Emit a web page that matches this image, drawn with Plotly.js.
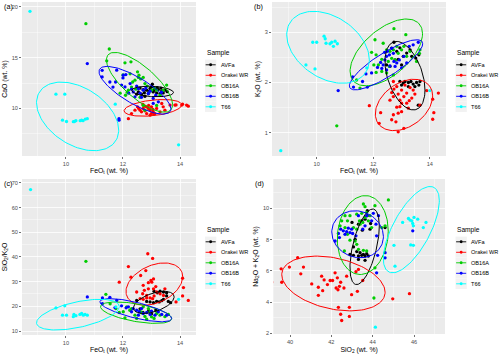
<!DOCTYPE html>
<html><head><meta charset="utf-8">
<script src="https://cdn.plot.ly/plotly-3.0.1.min.js"></script>
<style>html,body{margin:0;padding:0;background:#fff}#chart{width:500px;height:355px}</style>
</head><body><div id="chart"></div>
<script>
const samples = ["AVFa", "Orakei WR", "OB16A", "OB16B", "T66"];
const sampleColors = ["#000000", "#FF0000", "#00CD00", "#0000FF", "#00FFFF"];

// ---------- panel (a): FeOt vs CaO ----------
const aFeO_AVFa = [12.48,12.54,12.65,12.71,12.77,12.83,12.89,12.95,13.0,13.03,13.06,13.12,13.18,13.24,13.3,13.36,13.41,13.47,12.6,12.92,13.1,13.2,13.55,12.75,13.33];
const aCaO_AVFa = [11.4,11.63,11.4,11.86,11.2,11.8,11.47,11.96,12.12,12.38,11.63,11.8,11.53,11.86,11.47,11.73,11.53,11.8,12.0,11.7,11.9,12.05,11.65,11.55,12.0];
const aFeO_Orakei = [12.19,12.3,12.42,12.51,12.6,12.65,12.71,12.77,12.77,12.83,12.83,12.89,12.95,12.95,13.0,13.0,13.06,13.09,13.12,13.18,13.3,13.36,13.41,13.47,13.65,13.82,13.86,14.06,14.09,14.23,14.29,12.7,12.9,13.05,12.55];
const aCaO_Orakei = [9.0,9.5,9.83,10.16,9.83,9.67,10.0,9.77,10.23,10.16,9.5,10.0,9.83,9.34,10.16,9.51,9.67,9.44,9.5,10.0,9.67,10.49,10.16,9.83,10.33,10.33,10.35,10.33,10.42,10.33,10.23,10.4,10.3,9.9,10.0];
const aFeO_OB16A = [10.7,11.52,11.43,12.07,12.28,12.51,12.56,12.54,12.71,12.42,12.34,12.77,12.19,12.09,13.0,13.18,13.41,13.53,12.77,12.71,13.18,12.0,12.25,12.62,12.85,12.45,12.3,12.9,13.3,12.15,12.6,13.1,11.9];
const aCaO_OB16A = [18.33,15.84,14.68,14.48,14.58,13.6,13.27,13.05,13.05,12.78,12.6,12.45,11.8,11.3,11.8,11.8,11.8,12.3,9.83,10.3,10.3,13.3,13.4,12.9,12.2,11.9,12.1,11.5,11.3,11.6,11.1,12.0,11.5];
const aFeO_OB16B = [10.75,11.27,11.27,11.54,11.74,11.78,12.01,12.1,11.95,12.07,12.25,12.36,12.54,12.71,12.89,12.42,13.06,13.24,13.06,11.86,11.86,12.3,12.6,12.8,12.95,13.15,12.2,12.48,12.65,13.35,12.0,11.65];
const aCaO_OB16B = [14.41,13.75,13.1,12.6,12.6,13.76,13.27,13.33,12.3,12.12,12.45,11.63,11.96,11.8,11.47,11.14,10.98,10.65,10.5,9.0,8.85,11.9,11.5,12.0,11.7,11.3,11.5,12.2,11.1,11.6,13.0,12.1];
const aFeO_T66 = [8.74,9.65,9.96,9.88,10.02,10.26,10.3,10.35,10.5,10.55,10.6,10.68,10.75,11.73,13.95];
const aCaO_T66 = [19.54,11.4,11.4,8.85,8.72,8.7,8.72,8.8,8.8,8.85,8.8,8.95,9.0,10.42,6.43];

// ---------- panel (b): FeOt vs K2O ----------
const bFeO_AVFa = [12.65,12.73,12.83,12.94,13.06,13.18,13.36,12.77,12.59,13.0,13.5,13.61,12.88,13.3,12.94,13.06,13.12,13.24,13.33,13.41,13.53,13.61,13.47,13.24,13.65,13.0,13.59,12.47];
const bK2O_AVFa = [2.685,2.8,2.62,2.69,2.52,2.585,2.52,2.45,2.32,2.35,2.485,2.55,2.46,2.65,2.02,1.99,2.02,2.0,2.02,1.97,2.0,1.95,1.92,1.92,2.02,1.95,1.55,2.35];
const bFeO_Orakei = [11.86,12.26,12.21,12.59,12.65,12.73,12.71,12.83,12.88,12.94,13.0,13.08,13.18,13.27,13.36,13.41,13.47,12.83,12.94,13.0,12.88,12.71,12.65,12.8,12.88,13.08,13.0,13.18,13.24,13.65,13.89,14.1,14.14,14.1,14.3,12.71,13.12,13.3];
const bK2O_Orakei = [1.54,1.4,1.19,1.65,1.8,1.87,1.72,1.92,1.77,1.65,1.85,1.72,1.79,1.64,1.69,1.85,1.77,1.51,1.52,1.42,1.39,1.36,1.26,1.22,1.02,1.09,1.59,1.59,1.49,1.55,1.84,1.67,1.4,1.27,1.79,2.02,1.95,1.9];
const bFeO_OB16A = [12.73,13.15,12.06,12.35,11.94,12.1,12.02,12.18,12.47,12.59,12.71,12.83,12.88,13.0,13.08,13.18,13.3,13.53,13.63,13.65,12.65,12.77,12.53,12.3,12.47,12.71,12.1,11.41,11.53,10.71,12.3,12.57];
const bK2O_OB16A = [3.07,2.95,2.85,2.78,2.6,2.55,2.35,2.35,2.65,2.62,2.65,2.72,2.58,2.65,2.72,2.52,2.62,2.42,2.58,2.65,2.48,2.45,2.42,2.22,2.19,2.15,2.2,2.05,1.89,1.14,2.46,2.32];
const bFeO_OB16B = [10.76,11.27,11.3,11.79,11.74,11.94,12.26,12.35,12.41,12.47,12.5,12.57,12.65,12.71,12.73,12.83,12.92,13.0,13.08,13.18,13.27,13.41,13.59,12.3,12.47,12.59,12.77,11.62,12.15,12.4];
const bK2O_OB16B = [1.84,2.11,1.91,1.91,2.17,2.19,2.4,2.35,2.45,2.52,2.62,2.55,2.68,2.58,2.42,2.39,2.45,2.29,2.52,2.39,2.72,2.75,2.8,2.28,2.25,2.33,2.32,2.02,2.3,2.6];
const bFeO_T66 = [8.73,9.62,9.94,9.86,10.0,10.26,10.3,10.33,10.47,10.53,10.59,10.65,10.73,11.77,14.0];
const bK2O_T66 = [0.645,2.35,2.27,2.8,2.8,2.92,2.87,2.78,2.77,2.8,2.72,2.82,2.77,2.29,1.84];

// ---------- panel (c): FeOt vs SiO2/K2O ----------
const cFeO_AVFa = [12.48,12.83,12.95,13.07,13.18,13.27,13.36,13.42,13.59,13.67,13.09,13.2,13.3,13.42,13.53,13.53,12.7,12.9,13.0,13.15,12.6];
const cRatio_AVFa = [22.4,22.0,21.8,21.5,22.0,21.8,22.3,22.85,22.0,21.5,26.1,25.5,26.1,25.8,25.5,24.2,17.5,18.2,17.0,18.5,19.0];
const cFeO_Orakei = [11.87,12.19,12.28,12.62,12.8,12.87,13.04,12.98,13.01,12.71,12.89,13.07,12.69,12.83,12.95,13.09,13.18,13.3,13.42,13.47,12.71,12.83,13.04,13.86,14.09,14.12,14.09,14.29,12.48,12.6,12.89,13.07,13.15,12.75];
const cRatio_Orakei = [29.8,36.1,31.8,32.5,34.5,41.3,39.4,30.5,29.8,28.5,27.1,27.1,25.1,24.4,23.4,24.2,25.8,25.1,24.4,27.1,22.85,23.4,23.1,21.8,24.2,27.6,31.4,22.4,25.8,23.1,29.6,31.1,28.0,26.5];
const cFeO_OB16A = [10.7,11.4,11.75,12.07,12.24,12.42,12.6,12.77,12.95,13.09,13.18,13.3,13.47,13.59,12.89,12.71,12.3,12.13,12.01,11.87,12.83,13.0,12.48,12.65,11.55];
const cRatio_OB16A = [38.25,24.86,19.1,15.35,18.4,16.4,18.0,15.9,17.8,15.1,17.1,16.4,15.8,16.7,19.1,19.8,19.1,19.8,17.8,17.5,14.8,15.75,15.1,17.4,21.0];
const cFeO_OB16B = [10.75,11.28,11.28,11.54,11.78,11.95,11.72,12.19,12.36,12.48,12.57,12.65,12.71,12.83,12.95,13.0,13.12,13.24,13.36,13.53,12.54,12.3,12.11];
const cRatio_OB16B = [23.8,23.4,21.1,23.65,22.4,20.2,19.5,19.8,19.1,18.4,17.8,19.1,17.1,17.5,16.7,18.0,16.4,17.8,16.7,16.4,16.4,17.8,19.4];
const cFeO_T66 = [8.76,9.65,9.96,9.88,10.02,10.26,10.28,10.35,10.49,10.55,10.61,10.67,10.75,11.75,13.95];
const cRatio_T66 = [67.3,19.37,20.2,16.4,16.4,15.8,16.7,16.2,16.7,17.1,16.4,16.7,16.4,19.8,22.85];

// ---------- panel (d): SiO2 vs Na2O + K2O ----------
const dSiO2_AVFa = [43.15,43.31,43.47,43.63,43.74,43.87,43.9,44.6,42.9,43.07,43.23,43.31,43.39,43.47,43.55,43.63,43.71,43.79,43.31,43.63,43.07,43.74,43.0,43.5];
const dAlk_AVFa = [8.02,8.99,9.2,9.31,9.53,8.67,9.03,8.77,7.05,6.99,7.23,6.95,7.16,6.99,7.05,6.95,7.1,6.95,6.73,6.67,7.53,9.85,9.1,8.6];
const dSiO2_Orakei = [39.11,39.57,39.6,39.97,40.37,40.52,40.65,41.05,41.37,41.53,41.65,41.37,41.58,41.81,41.94,42.06,42.18,42.23,42.32,42.39,42.45,42.29,42.34,42.45,42.5,42.61,42.74,42.87,42.87,42.98,43.19,43.26,43.31,43.52,44.97,45.78];
const dAlk_Orakei = [5.27,6.13,5.27,6.24,6.84,5.81,6.24,5.16,4.95,5.66,5.42,4.43,4.73,5.12,5.38,5.38,5.87,4.9,4.79,5.01,5.27,5.55,3.66,3.22,2.82,4.9,5.66,3.66,3.08,4.47,5.94,4.69,6.09,5.38,4.21,4.54];
const dSiO2_OB16A = [44.76,43.55,43.63,44.11,42.9,42.66,42.5,42.42,42.66,43.07,43.23,43.39,43.52,43.63,43.79,43.87,43.95,43.71,43.47,43.23,42.78,42.9,43.15,42.63,43.31,43.55,43.71,44.44,44.6,44.11,44.06,43.23,43.36,42.78];
const dAlk_OB16A = [10.54,10.28,10.11,10.17,9.53,9.53,9.2,8.88,8.77,8.77,8.67,8.99,9.1,9.42,9.2,9.53,8.77,9.74,9.68,9.63,8.34,7.96,7.91,7.27,7.38,7.31,7.27,8.77,8.88,6.19,4.26,7.7,9.2,9.2];
const dSiO2_OB16B = [42.18,42.34,42.39,42.45,42.58,42.66,42.74,42.82,42.9,42.98,43.03,43.19,43.31,43.52,43.63,43.71,43.95,44.03,44.16,44.28,44.19,44.24,44.6,44.6,44.19,45.94];
const dAlk_OB16B = [7.91,8.39,8.13,8.67,8.56,8.34,8.51,8.73,8.45,8.67,8.39,8.24,9.53,8.67,8.88,9.53,9.2,9.68,8.99,9.53,8.24,6.99,7.16,6.83,5.87,8.56];
const dSiO2_T66 = [44.13,45.03,45.08,45.45,45.81,45.89,45.94,45.97,46.0,45.84,45.97,46.18,46.45,46.58,45.73];
const dAlk_T66 = [2.39,7.63,6.3,9.1,9.25,9.2,9.03,8.88,9.42,7.66,7.63,9.31,8.77,9.1,9.35];

// ---------- confidence ellipses: [centre x, centre y, half-width x, half-height y, correlation] ----------
const aEll_AVFa = [13.04, 11.67, 0.73, 0.52, -0.2];
const aEll_Orakei = [13.05, 10.06, 1.01, 0.82, 0.35];
const aEll_OB16A = [12.58, 12.57, 1.16, 2.94, -0.75];
const aEll_OB16B = [12.42, 11.79, 1.26, 2.35, -0.78];
const aEll_T66 = [10.41, 9.22, 1.44, 3.37, -0.4];
const bEll_AVFa = [13.12, 2.136, 0.707, 0.681, -0.42];
const bEll_Orakei = [13.085, 1.555, 1.013, 0.511, 0.35];
const bEll_OB16A = [12.46, 2.598, 1.28, 0.664, 0.56];
const bEll_OB16B = [12.45, 2.352, 1.296, 0.498, 0.84];
const bEll_T66 = [10.40, 2.70, 1.46, 0.714, -0.35];
const cEll_AVFa = [13.08, 21.58, 0.713, 4.48, 0.5];
const cEll_Orakei = [13.1, 29.01, 0.994, 8.57, 0.35];
const cEll_OB16A = [12.46, 17.43, 1.246, 4.35, -0.55];
const cEll_OB16B = [12.45, 18.43, 1.257, 4.69, -0.72];
const cEll_T66 = [10.42, 16.63, 1.45, 6.22, 0.53];
const dEll_AVFa = [43.61, 7.54, 0.71, 2.42, 0.55];
const dEll_Orakei = [42.1, 5.19, 2.5, 1.753, -0.32];
const dEll_OB16A = [43.52, 8.29, 1.234, 2.527, 0.1];
const dEll_OB16B = [43.27, 8.34, 1.25, 1.505, -0.1];
const dEll_T66 = [45.87, 8.635, 1.355, 2.763, 0.67];

// ---------- axis texts ----------
const panelLabels = ["(a)", "(b)", "(c)", "(d)"];
const xTitles = ["FeO<sub>t</sub> (wt. %)", "FeO<sub>t</sub> (wt. %)", "FeO<sub>t</sub> (wt. %)", "SiO<sub>2</sub> (wt. %)"];
const yTitles = ["CaO (wt. %)", "K<sub>2</sub>O (wt. %)", "SiO<sub>2</sub>/K<sub>2</sub>O", "Na<sub>2</sub>O + K<sub>2</sub>O (wt. %)"];
const legendTitle = "Sample";

// ---------- build ----------
const panels = [
  {xs:[aFeO_AVFa,aFeO_Orakei,aFeO_OB16A,aFeO_OB16B,aFeO_T66], ys:[aCaO_AVFa,aCaO_Orakei,aCaO_OB16A,aCaO_OB16B,aCaO_T66], ell:[aEll_AVFa,aEll_Orakei,aEll_OB16A,aEll_OB16B,aEll_T66]},
  {xs:[bFeO_AVFa,bFeO_Orakei,bFeO_OB16A,bFeO_OB16B,bFeO_T66], ys:[bK2O_AVFa,bK2O_Orakei,bK2O_OB16A,bK2O_OB16B,bK2O_T66], ell:[bEll_AVFa,bEll_Orakei,bEll_OB16A,bEll_OB16B,bEll_T66]},
  {xs:[cFeO_AVFa,cFeO_Orakei,cFeO_OB16A,cFeO_OB16B,cFeO_T66], ys:[cRatio_AVFa,cRatio_Orakei,cRatio_OB16A,cRatio_OB16B,cRatio_T66], ell:[cEll_AVFa,cEll_Orakei,cEll_OB16A,cEll_OB16B,cEll_T66]},
  {xs:[dSiO2_AVFa,dSiO2_Orakei,dSiO2_OB16A,dSiO2_OB16B,dSiO2_T66], ys:[dAlk_AVFa,dAlk_Orakei,dAlk_OB16A,dAlk_OB16B,dAlk_T66], ell:[dEll_AVFa,dEll_Orakei,dEll_OB16A,dEll_OB16B,dEll_T66]}
];

function ellipsePath(p) {
  const [cx, cy, sx, sy, r] = p;
  const s = Math.sqrt(1 - r * r);
  const ex = [], ey = [];
  for (let i = 0; i <= 120; i++) {
    const t = 2 * Math.PI * i / 120;
    ex.push(cx + sx * Math.cos(t));
    ey.push(cy + sy * (r * Math.cos(t) + s * Math.sin(t)));
  }
  return [ex, ey];
}

const W = 500, H = 355;
const px2x = p => p / W, py2y = p => 1 - p / H;
// pixel geometry of the four panels: [left, right, top, bottom]
const boxes = [[22, 196, 2, 156], [272, 446, 2, 156], [22, 196, 179, 335], [273.3, 445, 179, 334]];
const xRanges = [[8.46, 14.56], [8.42, 14.57], [8.46, 14.56], [39.19, 47.5]];
const yRanges = [[5.33, 20.46], [0.54, 3.6], [8.38, 71.6], [1.955, 11.88]];
const xD = [[2, 1], [2, 1], [2, 1], [2, 1]];
const yD = [[5, 2.5], [1, 0.5], [10, 5], [2, 1]];
const xStandoff = [2, 2, 2, 3];

const traces = [];
const layout = {
  width: W, height: H, margin: {l:0, r:0, t:0, b:0},
  paper_bgcolor: "#FFFFFF", plot_bgcolor: "#EBEBEB",
  font: {family: "Liberation Sans, Arial, sans-serif", color: "#000"},
  showlegend: false, annotations: [], shapes: []
};

panels.forEach((pn, k) => {
  const xa = k === 0 ? "x" : "x" + (k + 1), ya = k === 0 ? "y" : "y" + (k + 1);
  for (let g = 0; g < 5; g++) {
    traces.push({type: "scatter", mode: "markers", x: pn.xs[g], y: pn.ys[g], xaxis: xa, yaxis: ya,
      name: samples[g], marker: {color: sampleColors[g], size: 3.3}, showlegend: false, hoverinfo: "skip"});
  }
  for (let g = 0; g < 5; g++) {
    const [ex, ey] = ellipsePath(pn.ell[g]);
    traces.push({type: "scatter", mode: "lines", x: ex, y: ey, xaxis: xa, yaxis: ya,
      name: samples[g], line: {color: sampleColors[g], width: 1.0}, showlegend: false, hoverinfo: "skip"});
  }
  const b = boxes[k];
  const common = {showgrid: true, gridcolor: "#FFFFFF", gridwidth: 0.8, zeroline: false, showline: false,
    ticks: "outside", ticklen: 2, tickwidth: 0.7, tickcolor: "#333333", tickmode: "linear", tick0: 0,
    tickfont: {size: 5.6, color: "#4D4D4D"}, automargin: false, fixedrange: true};
  layout[k === 0 ? "xaxis" : "xaxis" + (k + 1)] = Object.assign({}, common, {
    domain: [px2x(b[0]), px2x(b[1])], range: xRanges[k], anchor: ya, dtick: xD[k][0],
    minor: {dtick: xD[k][1], tick0: 0, showgrid: true, gridcolor: "#FFFFFF", gridwidth: 0.4},
    title: {text: xTitles[k], font: {size: 6.9, color: "#000"}, standoff: xStandoff[k]}});
  layout[k === 0 ? "yaxis" : "yaxis" + (k + 1)] = Object.assign({}, common, {
    domain: [py2y(b[3]), py2y(b[2])], range: yRanges[k], anchor: xa, dtick: yD[k][0],
    minor: {dtick: yD[k][1], tick0: 0, showgrid: true, gridcolor: "#FFFFFF", gridwidth: 0.4},
    title: {text: yTitles[k], font: {size: 6.9, color: "#000"}, standoff: 3}});
  // panel label
  layout.annotations.push({text: panelLabels[k], xref: "paper", yref: "paper",
    x: px2x(b[0] - 20.5), y: py2y(b[2] + 4.5), xanchor: "left", yanchor: "middle", showarrow: false,
    font: {size: 7.2, color: "#000"}});
});

// custom ggplot-style legends (one per panel)
const legendOrigins = [[205, 53], [455.5, 53], [205, 230], [455.5, 230]];
legendOrigins.forEach(([lx, ly]) => {
  layout.annotations.push({text: legendTitle, xref: "paper", yref: "paper", x: px2x(lx - 0.5), y: py2y(ly),
    xanchor: "left", yanchor: "middle", showarrow: false, font: {size: 6.6, color: "#000"}});
  for (let g = 0; g < 5; g++) {
    const cy = ly + 11.8 + 10.5 * g;
    layout.shapes.push({type: "rect", xref: "paper", yref: "paper", x0: px2x(lx), x1: px2x(lx + 11.3),
      y0: py2y(cy - 5.2), y1: py2y(cy + 5.2), fillcolor: "#F2F2F2", line: {width: 0}, layer: "below"});
    layout.shapes.push({type: "line", xref: "paper", yref: "paper", x0: px2x(lx + 0.6), x1: px2x(lx + 10.7),
      y0: py2y(cy), y1: py2y(cy), line: {color: sampleColors[g], width: 0.9}});
    layout.shapes.push({type: "circle", xref: "paper", yref: "paper", x0: px2x(lx + 4.2), x1: px2x(lx + 7.1),
      y0: py2y(cy - 1.45), y1: py2y(cy + 1.45), fillcolor: sampleColors[g], line: {width: 0}});
    layout.annotations.push({text: samples[g], xref: "paper", yref: "paper", x: px2x(lx + 13.8), y: py2y(cy),
      xanchor: "left", yanchor: "middle", showarrow: false, font: {size: 5.6, color: "#000"}});
  }
});

Plotly.newPlot("chart", traces, layout, {staticPlot: true, displayModeBar: false});
</script>
</body></html>
